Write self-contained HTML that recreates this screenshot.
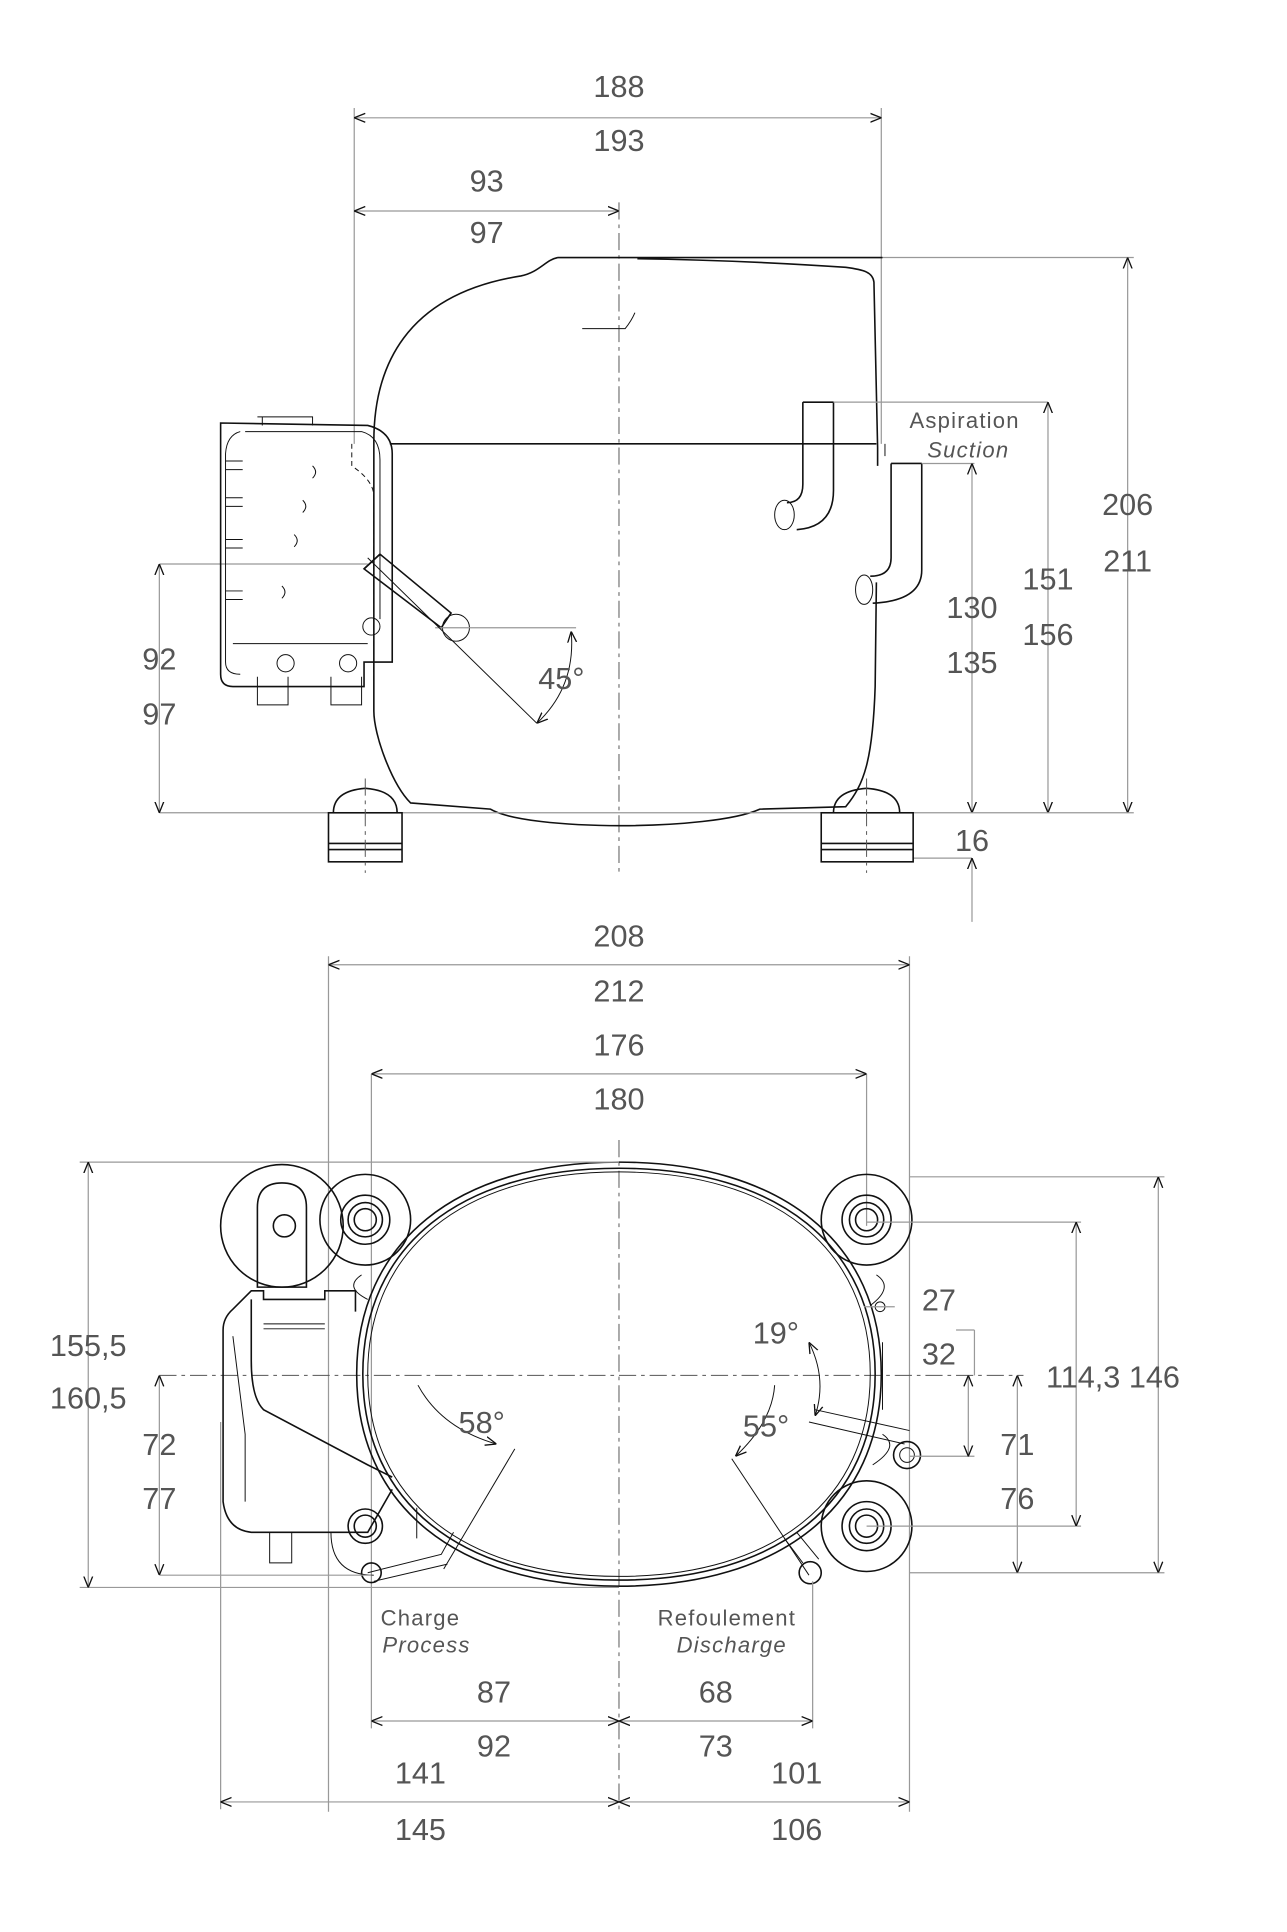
<!DOCTYPE html>
<html><head><meta charset="utf-8"><style>
html,body{margin:0;padding:0;background:#fff;}
svg{display:block;}
text{font-family:"Liberation Sans",sans-serif;fill:#555;}
.d{stroke:#999;stroke-width:1;fill:none;}
.o{stroke:#111;stroke-width:1.3;fill:none;}
.t{stroke:#111;stroke-width:0.8;fill:none;}
.c{stroke:#555;stroke-width:0.8;fill:none;stroke-dasharray:14 4 3 4;}
.n{font-size:25px;text-anchor:middle;}
.s{font-size:18px;text-anchor:middle;}
</style></head><body>
<svg width="1287" height="1932" viewBox="0 0 1050 1576" xmlns="http://www.w3.org/2000/svg">
<defs>
<marker id="a" viewBox="0 0 10 10" refX="10" refY="5" markerWidth="9" markerHeight="9" orient="auto-start-reverse" markerUnits="userSpaceOnUse"><path d="M0,1 L10,5 L0,9" fill="none" stroke="#111" stroke-width="1.2"/></marker>
</defs>

<!-- ============ TOP VIEW ============ -->
<line class="d" x1="289" y1="88" x2="289" y2="362"/>
<line class="d" x1="719" y1="88" x2="719" y2="362"/>
<line class="d" x1="289" y1="96" x2="719" y2="96" marker-start="url(#a)" marker-end="url(#a)"/>
<text class="n" x="505" y="79">188</text><text class="n" x="505" y="123">193</text>
<line class="d" x1="289" y1="172" x2="505" y2="172" marker-start="url(#a)" marker-end="url(#a)"/>
<text class="n" x="397" y="156">93</text><text class="n" x="397" y="198">97</text>
<line class="c" x1="505" y1="165" x2="505" y2="712"/>

<path class="o" d="M455,210 L720,210 M455,210 C445,212 440,222 425,225 C330,240 305,300 305,360 L305,580 C305,600 320,640 335,655 L400,660 C430,678 580,678 620,660 L690,658 C705,640 712,620 714,560 L715,475 M716,380 L716,365 L713,230 C712,222 705,220 690,218 Q600,212 520,211"/>
<path class="t" d="M475,268 L510,268 Q515,262 518,255"/>
<line class="o" x1="318" y1="362" x2="715" y2="362"/>
<line class="t" x1="722" y1="362" x2="722" y2="372"/>
<path class="o" d="M655,328 L655,395 Q655,410 642,410 M680,328 L680,400 Q680,430 650,432 M655,328 L680,328"/>
<ellipse class="t" cx="640" cy="420" rx="8" ry="12"/>
<line class="d" x1="680" y1="328" x2="855" y2="328"/>
<path class="o" d="M727,378 L727,455 Q727,470 710,470 M752,378 L752,465 Q752,490 712,492 M727,378 L752,378"/>
<ellipse class="t" cx="705" cy="481" rx="7" ry="12"/>
<line class="d" x1="752" y1="378" x2="795" y2="378"/>
<text class="s" x="787" y="349" style="letter-spacing:1px">Aspiration</text>
<text class="s" x="790" y="373" font-style="italic" style="letter-spacing:1px">Suction</text>
<line class="d" x1="720" y1="210" x2="925" y2="210"/>
<line class="d" x1="920" y1="210" x2="920" y2="663" marker-start="url(#a)" marker-end="url(#a)"/>
<text class="n" x="920" y="420">206</text><text class="n" x="920" y="466">211</text>
<line class="d" x1="855" y1="328" x2="855" y2="663" marker-start="url(#a)" marker-end="url(#a)"/>
<text class="n" x="855" y="481">151</text><text class="n" x="855" y="526">156</text>
<line class="d" x1="793" y1="378" x2="793" y2="663" marker-start="url(#a)" marker-end="url(#a)"/>
<text class="n" x="793" y="504">130</text><text class="n" x="793" y="549">135</text>
<line class="d" x1="130" y1="663" x2="925" y2="663"/>
<line class="d" x1="745" y1="700" x2="793" y2="700"/>
<line class="d" x1="793" y1="700" x2="793" y2="752" marker-start="url(#a)"/>
<text class="n" x="793" y="694">16</text>
<line class="d" x1="130" y1="460" x2="300" y2="460"/>
<line class="d" x1="130" y1="460" x2="130" y2="663" marker-start="url(#a)" marker-end="url(#a)"/>
<text class="n" x="130" y="546">92</text><text class="n" x="130" y="591">97</text>
<path class="o" d="M180,345 L180,550 Q180,560 190,560 L297,560 L297,540 L320,540 L320,370 Q320,352 300,347 L180,345 Z"/>
<path class="t" d="M196,352 Q185,355 184,370 L184,540 Q184,550 196,550 M210,340 L255,340 L255,347 M214,340 L214,347 M200,352 L295,352 Q310,356 310,375 L310,505"/>
<path class="t" d="M184,376 L198,376 M184,383 L198,383 M184,406 L198,406 M184,413 L198,413 M184,440 L198,440 M184,447 L198,447 M184,482 L198,482 M184,489 L198,489"/>
<path class="t" d="M255,380 q5,5 0,10 M247,408 q5,5 0,10 M240,436 q5,5 0,10 M230,478 q5,5 0,10"/>
<path class="t" d="M287,362 L287,380 Q305,392 305,405 L305,555" stroke-dasharray="4 3"/>
<path class="t" d="M210,552 L210,575 L235,575 L235,552 M270,552 L270,575 L295,575 L295,552 M190,525 L300,525"/>
<circle class="t" cx="233" cy="541" r="7"/><circle class="t" cx="284" cy="541" r="7"/>
<circle class="t" cx="303" cy="511" r="7"/>
<path class="o" d="M297,464 L310,452 L368,500 L360,512 Z"/>
<line class="o" x1="297" y1="464" x2="310" y2="452" stroke-width="3"/>
<circle class="t" cx="372" cy="512" r="11"/>
<line class="d" x1="355" y1="512" x2="470" y2="512"/>
<line class="t" x1="300" y1="455" x2="438" y2="590"/>
<path class="t" d="M466,515 Q470,560 438,590" marker-start="url(#a)" marker-end="url(#a)"/>
<text class="n" x="458" y="562">45°</text>
<g>
<rect class="o" x="268" y="663" width="60" height="40"/>
<path class="o" d="M272,663 Q272,645 298,643 Q324,645 324,663 M268,688 L328,688 M268,693 L328,693"/>
<rect class="o" x="670" y="663" width="75" height="40"/>
<path class="o" d="M680,663 Q680,645 707,643 Q734,645 734,663 M670,688 L745,688 M670,693 L745,693"/>
<line class="c" x1="298" y1="635" x2="298" y2="712"/>
<line class="c" x1="707" y1="635" x2="707" y2="712"/>
</g>

<!-- ============ BOTTOM VIEW ============ -->
<line class="d" x1="268" y1="780" x2="268" y2="1478"/>
<line class="d" x1="742" y1="780" x2="742" y2="1478"/>
<line class="d" x1="268" y1="787" x2="742" y2="787" marker-start="url(#a)" marker-end="url(#a)"/>
<text class="n" x="505" y="772">208</text><text class="n" x="505" y="817">212</text>
<line class="d" x1="303" y1="876" x2="303" y2="1410"/>
<line class="d" x1="707" y1="876" x2="707" y2="1000"/>
<line class="d" x1="303" y1="876" x2="707" y2="876" marker-start="url(#a)" marker-end="url(#a)"/>
<text class="n" x="505" y="861">176</text><text class="n" x="505" y="905">180</text>
<line class="c" x1="505" y1="930" x2="505" y2="1480"/>
<line class="c" x1="130" y1="1122" x2="835" y2="1122"/>
<path class="o" d="M505,948 C638,948 719,1014 719,1121 C719,1228 638,1294 505,1294 C372,1294 291,1228 291,1121 C291,1014 372,948 505,948Z"/>
<path class="o" d="M505,953 C635,953 714,1017 714,1121 C714,1225 635,1289 505,1289 C375,1289 296,1225 296,1121 C296,1017 375,953 505,953Z"/>
<path class="t" d="M505,956 C632,956 710,1019 710,1121 C710,1223 632,1286 505,1286 C378,1286 300,1223 300,1121 C300,1019 378,956 505,956Z"/>
<g class="o">
<circle cx="298" cy="995" r="37"/><circle cx="298" cy="995" r="20"/><circle cx="298" cy="995" r="14"/><circle cx="298" cy="995" r="9"/>
<circle cx="707" cy="995" r="37"/><circle cx="707" cy="995" r="20"/><circle cx="707" cy="995" r="14"/><circle cx="707" cy="995" r="9"/>
<circle cx="707" cy="1245" r="37"/><circle cx="707" cy="1245" r="20"/><circle cx="707" cy="1245" r="14"/><circle cx="707" cy="1245" r="9"/>
<circle cx="298" cy="1245" r="14"/><circle cx="298" cy="1245" r="9"/>
</g>
<path class="t" d="M270,1250 Q270,1285 305,1285 M340,1230 L340,1255 M295,1040 Q280,1050 300,1060 M715,1040 Q730,1050 710,1065 M720,1170 Q735,1180 712,1195 M720,1150 L720,1095"/>
<circle class="o" cx="230" cy="1000" r="50"/>
<path class="o" d="M210,1050 L210,985 Q210,965 230,965 Q250,965 250,985 L250,1050 Z"/>
<circle class="o" cx="232" cy="1000" r="9" stroke-width="2"/>
<path class="o" d="M182,1085 Q182,1075 190,1068 L205,1053 L215,1053 L215,1060 L265,1060 L265,1053 L290,1053 L290,1070 M182,1085 L182,1225 Q185,1248 205,1250 L300,1250 L320,1215 M205,1060 L205,1110 Q205,1140 215,1150 L300,1195 L320,1205"/>
<path class="t" d="M190,1090 L200,1170 L200,1225 M215,1080 L265,1080 M215,1084 L265,1084 M220,1250 L220,1275 L238,1275 L238,1250 M300,1283 L360,1268 L370,1250 M305,1290 L365,1276"/>
<circle class="o" cx="303" cy="1283" r="8" stroke-width="2.5"/>
<circle class="o" cx="740" cy="1187" r="11" stroke-width="2.5"/>
<circle class="t" cx="740" cy="1187" r="6"/>
<circle class="o" cx="661" cy="1283" r="9" stroke-width="2.5"/>
<path class="t" d="M660,1160 L738,1178 M665,1150 L742,1167 M640,1255 L655,1275 M650,1250 L668,1272"/>
<circle class="t" cx="718" cy="1066" r="4"/>
<line class="d" x1="705" y1="1066" x2="730" y2="1066"/>
<line class="d" x1="65" y1="948" x2="505" y2="948"/>
<line class="d" x1="65" y1="1295" x2="505" y2="1295"/>
<line class="d" x1="72" y1="948" x2="72" y2="1295" marker-start="url(#a)" marker-end="url(#a)"/>
<text class="n" x="72" y="1106">155,5</text><text class="n" x="72" y="1149">160,5</text>
<line class="d" x1="130" y1="1285" x2="303" y2="1285"/>
<line class="d" x1="130" y1="1122" x2="130" y2="1285" marker-start="url(#a)" marker-end="url(#a)"/>
<text class="n" x="130" y="1187">72</text><text class="n" x="130" y="1231">77</text>
<line class="d" x1="742" y1="960" x2="950" y2="960"/>
<line class="d" x1="742" y1="1283" x2="950" y2="1283"/>
<line class="d" x1="945" y1="960" x2="945" y2="1283" marker-start="url(#a)" marker-end="url(#a)"/>
<line class="d" x1="707" y1="997" x2="882" y2="997"/>
<line class="d" x1="707" y1="1245" x2="882" y2="1245"/>
<line class="d" x1="878" y1="997" x2="878" y2="1245" marker-start="url(#a)" marker-end="url(#a)"/>
<text class="n" x="908" y="1132">114,3 146</text>
<line class="d" x1="830" y1="1122" x2="830" y2="1283" marker-start="url(#a)" marker-end="url(#a)"/>
<text class="n" x="830" y="1187">71</text><text class="n" x="830" y="1231">76</text>
<line class="d" x1="742" y1="1188" x2="795" y2="1188"/>
<line class="d" x1="780" y1="1085" x2="795" y2="1085"/>
<line class="d" x1="790" y1="1122" x2="790" y2="1188" marker-start="url(#a)" marker-end="url(#a)"/>
<line class="d" x1="795" y1="1085" x2="795" y2="1122"/>
<text class="n" x="766" y="1113">32</text><text class="n" x="766" y="1069">27</text>
<path class="t" d="M341,1130 Q360,1165 405,1178" marker-end="url(#a)"/>
<line class="t" x1="420" y1="1182" x2="362" y2="1280"/>
<text class="n" x="393" y="1169">58°</text>
<path class="t" d="M632,1130 Q630,1160 600,1188" marker-end="url(#a)"/>
<line class="t" x1="597" y1="1190" x2="660" y2="1285"/>
<text class="n" x="625" y="1172">55°</text>
<path class="t" d="M660,1095 Q675,1125 665,1155" marker-start="url(#a)" marker-end="url(#a)"/>
<text class="n" x="633" y="1096">19°</text>
<text class="s" x="343" y="1326" style="letter-spacing:1px">Charge</text>
<text class="s" x="348" y="1348" font-style="italic" style="letter-spacing:1px">Process</text>
<text class="s" x="593" y="1326" style="letter-spacing:1px">Refoulement</text>
<text class="s" x="597" y="1348" font-style="italic" style="letter-spacing:1px">Discharge</text>
<line class="d" x1="663" y1="1290" x2="663" y2="1410"/>
<line class="d" x1="303" y1="1404" x2="505" y2="1404" marker-start="url(#a)" marker-end="url(#a)"/>
<line class="d" x1="505" y1="1404" x2="663" y2="1404" marker-start="url(#a)" marker-end="url(#a)"/>
<text class="n" x="403" y="1389">87</text><text class="n" x="403" y="1433">92</text>
<text class="n" x="584" y="1389">68</text><text class="n" x="584" y="1433">73</text>
<line class="d" x1="180" y1="1160" x2="180" y2="1476"/>
<line class="d" x1="180" y1="1470" x2="505" y2="1470" marker-start="url(#a)" marker-end="url(#a)"/>
<line class="d" x1="505" y1="1470" x2="742" y2="1470" marker-start="url(#a)" marker-end="url(#a)"/>
<text class="n" x="343" y="1455">141</text><text class="n" x="343" y="1501">145</text>
<text class="n" x="650" y="1455">101</text><text class="n" x="650" y="1501">106</text>
</svg>
</body></html>
